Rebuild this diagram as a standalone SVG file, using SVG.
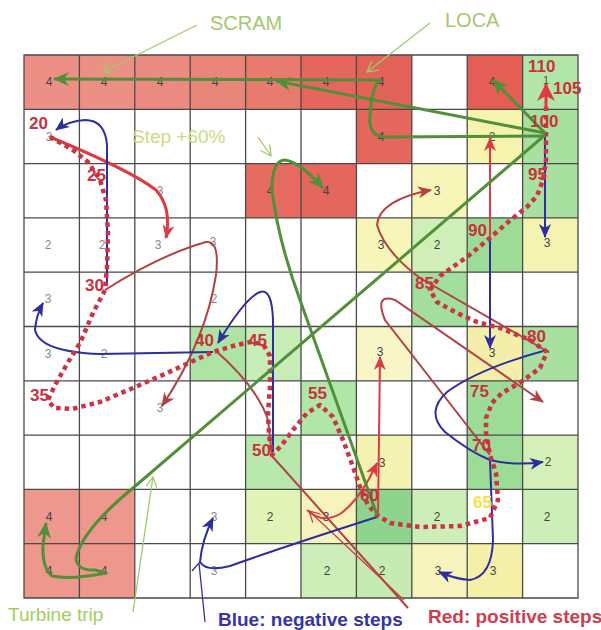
<svg xmlns="http://www.w3.org/2000/svg" width="601" height="630" viewBox="0 0 601 630">
<style>
.cell{stroke:none}
.grid{stroke:#4a4a4a;stroke-width:1.3;fill:none}
.n{font-family:"Liberation Sans",Arial,sans-serif;font-size:12px;fill:#444;text-anchor:middle}
.nl{font-family:"Liberation Sans",Arial,sans-serif;font-size:12px;fill:#8a8a8a;text-anchor:middle}
.tl{font-family:"Liberation Sans",Arial,sans-serif;font-size:17px;font-weight:bold;fill:#c8323f}
.red{fill:none;stroke:#de3a44;stroke-width:2}
.brn{fill:none;stroke:#b04444;stroke-width:2}
.blu{fill:none;stroke:#2e2e9e;stroke-width:2}
.grn{fill:none;stroke:#4f9038;stroke-width:3;stroke-linejoin:round}
.lead{fill:none;stroke:#9ccc6a;stroke-width:1.3}
.traj{fill:none;stroke:#cc3344;stroke-width:4.5;stroke-dasharray:4.5 4;stroke-linejoin:round}
.lbl{font-family:"Liberation Sans",Arial,sans-serif;font-size:20px}
</style>
<defs>
<marker id="ar" viewBox="0 0 14 12" refX="13" refY="6" markerWidth="14" markerHeight="12" markerUnits="userSpaceOnUse" orient="auto"><path d="M0,0 L14,6 L0,12 L4,6 Z" fill="#de3a44"/></marker>
<marker id="arL" viewBox="0 0 18 18" refX="17" refY="9" markerWidth="18" markerHeight="18" markerUnits="userSpaceOnUse" orient="auto"><path d="M0,0 L18,9 L0,18 L5,9 Z" fill="#de3a44"/></marker>
<marker id="arb" viewBox="0 0 14 12" refX="13" refY="6" markerWidth="14" markerHeight="12" markerUnits="userSpaceOnUse" orient="auto"><path d="M0,0 L14,6 L0,12 L4,6 Z" fill="#b04444"/></marker>
<marker id="ab" viewBox="0 0 14 12" refX="13" refY="6" markerWidth="14" markerHeight="12" markerUnits="userSpaceOnUse" orient="auto"><path d="M0,0 L14,6 L0,12 L4,6 Z" fill="#2e2e9e"/></marker>
<marker id="ag" viewBox="0 0 16 14" refX="15" refY="7" markerWidth="16" markerHeight="14" markerUnits="userSpaceOnUse" orient="auto"><path d="M0,0 L16,7 L0,14 L5,7 Z" fill="#4f9038"/></marker>
<marker id="aog" viewBox="0 0 12 12" refX="11" refY="6" markerWidth="12" markerHeight="12" markerUnits="userSpaceOnUse" orient="auto"><path d="M0,0 L11,6 L0,12" fill="none" stroke="#9ccc6a" stroke-width="1.3"/></marker>
<marker id="aor" viewBox="0 0 12 12" refX="11" refY="6" markerWidth="12" markerHeight="12" markerUnits="userSpaceOnUse" orient="auto"><path d="M0,0 L11,6 L0,12" fill="none" stroke="#c84048" stroke-width="1.3"/></marker>
</defs>
<rect width="601" height="630" fill="#ffffff"/>
<g id="cells">
<rect class="cell" x="24" y="55" width="55.4" height="54.3" fill="#ec9086"/>
<rect class="cell" x="79.4" y="55" width="55.4" height="54.3" fill="#ec9086"/>
<rect class="cell" x="134.8" y="55" width="55.4" height="54.3" fill="#eb8a80"/>
<rect class="cell" x="190.2" y="55" width="55.4" height="54.3" fill="#ea857a"/>
<rect class="cell" x="245.6" y="55" width="55.4" height="54.3" fill="#e87a70"/>
<rect class="cell" x="301" y="55" width="55.4" height="54.3" fill="#e4665c"/>
<rect class="cell" x="356.4" y="55" width="55.4" height="54.3" fill="#e36258"/>
<rect class="cell" x="467.2" y="55" width="55.4" height="54.3" fill="#e55e55"/>
<rect class="cell" x="522.6" y="55" width="55.4" height="54.3" fill="#b2e6a8"/>
<rect class="cell" x="356.4" y="109.3" width="55.4" height="54.3" fill="#e4665c"/>
<rect class="cell" x="467.2" y="109.3" width="55.4" height="54.3" fill="#f6f3ae"/>
<rect class="cell" x="522.6" y="109.3" width="55.4" height="54.3" fill="#a8e0a0"/>
<rect class="cell" x="245.6" y="163.6" width="55.4" height="54.3" fill="#e66c62"/>
<rect class="cell" x="301" y="163.6" width="55.4" height="54.3" fill="#e4665c"/>
<rect class="cell" x="411.8" y="163.6" width="55.4" height="54.3" fill="#f7f5b8"/>
<rect class="cell" x="522.6" y="163.6" width="55.4" height="54.3" fill="#a8e0a0"/>
<rect class="cell" x="356.4" y="217.9" width="55.4" height="54.3" fill="#f7f5b8"/>
<rect class="cell" x="411.8" y="217.9" width="55.4" height="54.3" fill="#cfeeb8"/>
<rect class="cell" x="467.2" y="217.9" width="55.4" height="54.3" fill="#9cdc96"/>
<rect class="cell" x="522.6" y="217.9" width="55.4" height="54.3" fill="#f5f3b0"/>
<rect class="cell" x="411.8" y="272.2" width="55.4" height="54.3" fill="#a2de9c"/>
<rect class="cell" x="190.2" y="326.5" width="55.4" height="54.3" fill="#ade4a4"/>
<rect class="cell" x="245.6" y="326.5" width="55.4" height="54.3" fill="#c6edb6"/>
<rect class="cell" x="356.4" y="326.5" width="55.4" height="54.3" fill="#f8f6c6"/>
<rect class="cell" x="467.2" y="326.5" width="55.4" height="54.3" fill="#f3efaa"/>
<rect class="cell" x="522.6" y="326.5" width="55.4" height="54.3" fill="#a8e0a0"/>
<rect class="cell" x="301" y="380.8" width="55.4" height="54.3" fill="#b0e6a8"/>
<rect class="cell" x="467.2" y="380.8" width="55.4" height="54.3" fill="#9cdc96"/>
<rect class="cell" x="245.6" y="435.1" width="55.4" height="54.3" fill="#b8e8ac"/>
<rect class="cell" x="356.4" y="435.1" width="55.4" height="54.3" fill="#f4f2b0"/>
<rect class="cell" x="467.2" y="435.1" width="55.4" height="54.3" fill="#9cdc96"/>
<rect class="cell" x="522.6" y="435.1" width="55.4" height="54.3" fill="#d4f0b8"/>
<rect class="cell" x="24" y="489.4" width="55.4" height="54.3" fill="#ee978c"/>
<rect class="cell" x="79.4" y="489.4" width="55.4" height="54.3" fill="#ee978c"/>
<rect class="cell" x="245.6" y="489.4" width="55.4" height="54.3" fill="#e2f3b8"/>
<rect class="cell" x="301" y="489.4" width="55.4" height="54.3" fill="#f6f4bc"/>
<rect class="cell" x="356.4" y="489.4" width="55.4" height="54.3" fill="#8ed48c"/>
<rect class="cell" x="411.8" y="489.4" width="55.4" height="54.3" fill="#cdeeb8"/>
<rect class="cell" x="522.6" y="489.4" width="55.4" height="54.3" fill="#cdeeb8"/>
<rect class="cell" x="24" y="543.7" width="55.4" height="54.3" fill="#ee978c"/>
<rect class="cell" x="79.4" y="543.7" width="55.4" height="54.3" fill="#ee978c"/>
<rect class="cell" x="301" y="543.7" width="55.4" height="54.3" fill="#cdeeb8"/>
<rect class="cell" x="356.4" y="543.7" width="55.4" height="54.3" fill="#c6ebb2"/>
<rect class="cell" x="411.8" y="543.7" width="55.4" height="54.3" fill="#f6f4bc"/>
<rect class="cell" x="467.2" y="543.7" width="55.4" height="54.3" fill="#f4f0a8"/>
</g>
<g id="grid">
<path class="grid" d="M24,55H578V598H24Z M79.4,55V598 M134.8,55V598 M190.2,55V598 M245.6,55V598 M301,55V598 M356.4,55V598 M411.8,55V598 M467.2,55V598 M522.6,55V598 M24,109.3H578 M24,163.6H578 M24,217.9H578 M24,272.2H578 M24,326.5H578 M24,380.8H578 M24,435.1H578 M24,489.4H578 M24,543.7H578"/>
</g>
<g id="cell-numbers">
<text class="n" x="49" y="86">4</text><text class="n" x="104" y="86">4</text><text class="n" x="160" y="86">4</text><text class="n" x="215" y="86">4</text><text class="n" x="270" y="86">4</text><text class="n" x="326" y="86">4</text><text class="n" x="381" y="86">4</text><text class="n" x="492" y="86">4</text><text class="n" x="546" y="84" style="font-size:10px">1</text>
<text class="nl" x="49" y="141">3</text><text class="n" x="381" y="141">4</text><text class="n" x="492" y="141">2</text>
<text class="nl" x="160" y="195">3</text><text class="n" x="270" y="195">4</text><text class="n" x="326" y="195">4</text><text class="n" x="437" y="195">3</text>
<text class="nl" x="48" y="249">2</text><text class="nl" x="102" y="249">2</text><text class="nl" x="158" y="249">3</text><text class="nl" x="213" y="246">3</text><text class="n" x="381" y="249">3</text><text class="n" x="437" y="249">2</text><text class="n" x="547" y="247">3</text>
<text class="nl" x="48" y="303">3</text><text class="nl" x="214" y="303">2</text>
<text class="nl" x="48" y="358">3</text><text class="nl" x="104" y="358">2</text><text class="n" x="380" y="356">3</text><text class="n" x="492" y="357">3</text>
<text class="nl" x="160" y="412">3</text>
<text class="n" x="382" y="467">3</text><text class="n" x="548" y="466">2</text>
<text class="n" x="49" y="521">4</text><text class="n" x="104" y="521">4</text><text class="nl" x="214" y="521">3</text><text class="n" x="270" y="521">2</text><text class="n" x="326" y="521">3</text><text class="n" x="437" y="521">2</text><text class="n" x="547" y="521">2</text>
<text class="n" x="49" y="575">4</text><text class="n" x="104" y="575">4</text><text class="nl" x="214" y="575">3</text><text class="n" x="327" y="575">2</text><text class="n" x="382" y="575">2</text><text class="n" x="438" y="575">3</text><text class="n" x="493" y="575">3</text>
</g>
<g id="connectors">
<path class="red" style="stroke-width:3" d="M50,137 Q130,170 156,190 Q172,208 166,238" marker-end="url(#ar)"/>
<path class="brn" d="M105,290 Q160,255 206,242 Q220,240 216,275 Q206,340 162,406" marker-end="url(#arb)"/>
<path class="brn" d="M215,350 Q258,388 268,420 L272,456 L408,608"/>
<path class="red" d="M307,510 Q322,524 340,514 Q360,500 377,463" marker-end="url(#ar)"/>
<path class="red" d="M378,515 L380,357" marker-end="url(#ar)"/>
<path class="brn" d="M545,350 L420,278 Q385,252 377,225 Q379,200 431,190" marker-end="url(#arb)"/>
<path class="brn" d="M490,455 L385,320 Q374,293 395,300 L543,402" marker-end="url(#arb)"/>
<path class="red" d="M490,238 L490,138" marker-end="url(#ar)"/>
<path class="lead" style="stroke:#c84048" d="M404,600 L309,511" marker-end="url(#aor)"/>
<path class="blu" d="M107,285 L107,145 Q105,120 85,120 Q68,121 56,130" marker-end="url(#ab)"/>
<path class="blu" d="M213,352 L100,354 Q40,352 35,330 Q36,316 43,303" marker-end="url(#ab)"/>
<path class="blu" d="M273,452 L273,320 Q272,288 260,292 Q245,298 218,343" marker-end="url(#ab)"/>
<path class="blu" d="M377,517 Q280,548 230,566 Q206,572 200,562 Q202,540 213,518" marker-end="url(#ab)"/>
<path class="blu" style="stroke-width:1.3" d="M205,622 L199,563 L192,571"/>
<path class="blu" d="M547,350 Q480,368 447,392 Q425,412 445,432 Q470,452 490,460 Q515,466 543,462" marker-end="url(#ab)"/>
<path class="blu" d="M490,460 L493,540 Q492,576 470,580 Q455,579 439,572" marker-end="url(#ab)"/>
<path class="blu" d="M490,238 L490,348" marker-end="url(#ab)"/>
<path class="blu" d="M545,135 L545,237" marker-end="url(#ab)"/>
<polyline class="traj" points="50,137 73,150 88,162 100,180 106,200 108,233 107,267 105,290 93,313 80,343 67,364 55,385 48,400 54,408 72,409 100,402 133,388 167,373 193,361 213,352 233,346 250,342 263,344 270,356 270,387 268,413 269,435 272,455 281,446 293,430 307,413 320,405 333,417 343,440 353,467 361,490 368,505 377,515 390,523 420,527 460,526 490,518 498,500 496,473 490,455 486,433 486,418 492,403 502,393 521,382 540,368 547,352 530,340 500,328 477,322 457,313 437,302 430,290 440,276 467,257 490,238 507,223 527,207 537,196 543,180 546,160 546,135 546,105"/>
<path class="red" style="stroke-width:3" d="M546,110 L546,84" marker-end="url(#arL)"/>
<path class="grn" d="M545,133 L276,81" marker-end="url(#ag)"/>
<path class="grn" d="M545,136 L383,137 Q368,135 370,115 Q372,86 380,80 L54,79" marker-end="url(#ag)"/>
<path class="grn" d="M545,133 L493,80" marker-end="url(#ag)"/>
<path class="grn" d="M545,135 L133,488 Q82,530 76,558 Q77,571 95,570 L106,573 Q70,580 52,576 Q42,568 43,545 L46,523" marker-end="url(#ag)"/>
<path class="grn" d="M377,515 L300,300 Q278,240 272,190 Q272,160 285,160 Q300,162 323,188" marker-end="url(#ag)"/>
<path class="lead" d="M197,25 L103,72" marker-end="url(#aog)"/>
<path class="lead" d="M430,23 L367,72" marker-end="url(#aog)"/>
<path class="lead" d="M258,137 L271,156" marker-end="url(#aog)"/>
<path class="lead" d="M133,612 L153,477" marker-end="url(#aog)"/>
</g>
<g id="trajectory-labels">
<text class="tl" x="29" y="129">20</text>
<text class="tl" x="87" y="181">25</text>
<text class="tl" x="85" y="291">30</text>
<text class="tl" x="30" y="401">35</text>
<text class="tl" x="195" y="346">40</text>
<text class="tl" x="248" y="346">45</text>
<text class="tl" x="252" y="456">50</text>
<text class="tl" x="308" y="399">55</text>
<text class="tl" x="360" y="501">60</text>
<text class="tl" x="473" y="508" style="fill:#f2e440">65</text>
<text class="tl" x="472" y="451">70</text>
<text class="tl" x="470" y="397">75</text>
<text class="tl" x="527" y="342">80</text>
<text class="tl" x="415" y="289">85</text>
<text class="tl" x="468" y="236">90</text>
<text class="tl" x="528" y="180">95</text>
<text class="tl" x="530" y="127">100</text>
<text class="tl" x="553" y="94">105</text>
<text class="tl" x="528" y="72">110</text>
</g>
<g id="labels">
<text class="lbl" x="210" y="30" fill="#a2c870">SCRAM</text>
<text class="lbl" x="445" y="27" fill="#a2c870">LOCA</text>
<text class="lbl" x="132" y="143" fill="#c8dc80" style="font-size:19px">Step +60%</text>
<text class="lbl" x="8" y="621" fill="#a0d060" style="font-size:19px">Turbine trip</text>
<text class="lbl" x="218" y="626" fill="#3535a8" style="font-size:19px;font-weight:bold">Blue: negative steps</text>
<text class="lbl" x="428" y="623" fill="#d03c50" style="font-size:19px;font-weight:bold">Red: positive steps</text>
</g>
</svg>
